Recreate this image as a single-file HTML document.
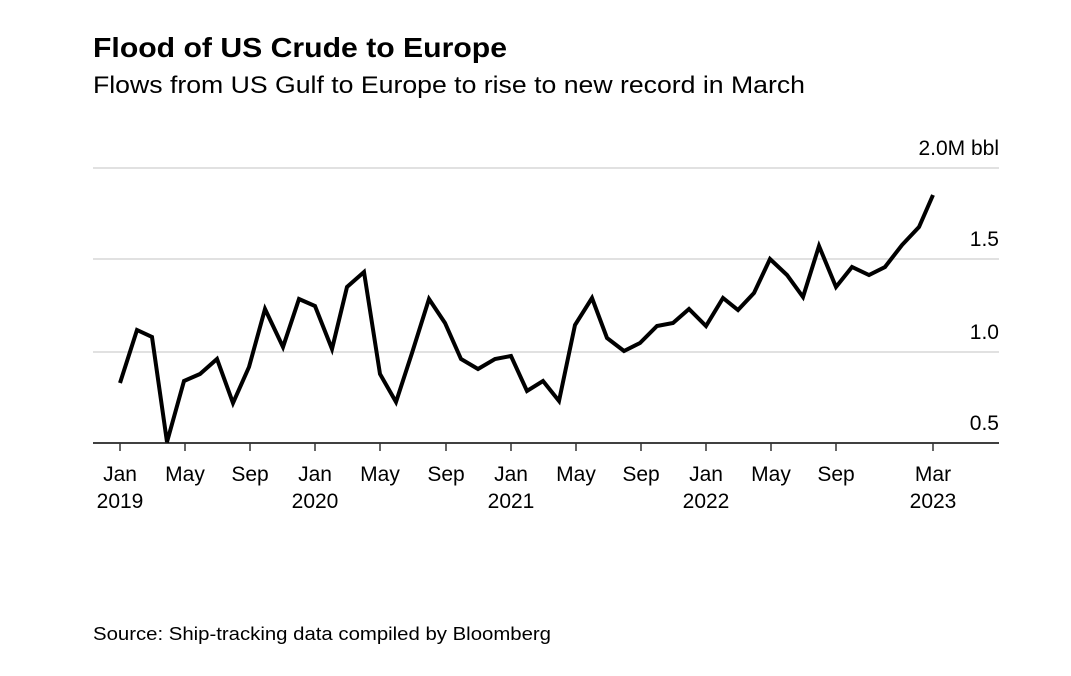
<!DOCTYPE html>
<html><head><style>
body{margin:0;background:#fff;width:1071px;height:671px;overflow:hidden;font-family:"Liberation Sans",sans-serif;}
</style></head><body>
<svg width="1071" height="671" xmlns="http://www.w3.org/2000/svg" font-family="Liberation Sans, sans-serif">
<text x="93" y="57" font-size="28" font-weight="bold" fill="#000" textLength="414" lengthAdjust="spacingAndGlyphs">Flood of US Crude to Europe</text>
<text x="93" y="93" font-size="24" fill="#000" textLength="712" lengthAdjust="spacingAndGlyphs">Flows from US Gulf to Europe to rise to new record in March</text>
<g stroke="#e1e1e1" stroke-width="2">
<line x1="93" y1="168" x2="999" y2="168"/>
<line x1="93" y1="259" x2="999" y2="259"/>
<line x1="93" y1="352" x2="999" y2="352"/>
</g>
<g font-size="21" fill="#000" text-anchor="end">
<text x="999" y="155">2.0M bbl</text>
<text x="999" y="246">1.5</text>
<text x="999" y="339">1.0</text>
<text x="999" y="430">0.5</text>
</g>
<line x1="93" y1="443" x2="999" y2="443" stroke="#000" stroke-width="1.5"/>
<g stroke="#333" stroke-width="1.5">
<line x1="120" y1="443" x2="120" y2="451"/><line x1="185" y1="443" x2="185" y2="451"/>
<line x1="250" y1="443" x2="250" y2="451"/><line x1="315" y1="443" x2="315" y2="451"/>
<line x1="380" y1="443" x2="380" y2="451"/><line x1="446" y1="443" x2="446" y2="451"/>
<line x1="511" y1="443" x2="511" y2="451"/><line x1="576" y1="443" x2="576" y2="451"/>
<line x1="641" y1="443" x2="641" y2="451"/><line x1="706" y1="443" x2="706" y2="451"/>
<line x1="771" y1="443" x2="771" y2="451"/><line x1="836" y1="443" x2="836" y2="451"/>
<line x1="933" y1="443" x2="933" y2="451"/>
</g>
<g font-size="21" fill="#000" text-anchor="middle">
<text x="120" y="481">Jan</text><text x="120" y="508">2019</text>
<text x="185" y="481">May</text><text x="250" y="481">Sep</text>
<text x="315" y="481">Jan</text><text x="315" y="508">2020</text>
<text x="380" y="481">May</text><text x="446" y="481">Sep</text>
<text x="511" y="481">Jan</text><text x="511" y="508">2021</text>
<text x="576" y="481">May</text><text x="641" y="481">Sep</text>
<text x="706" y="481">Jan</text><text x="706" y="508">2022</text>
<text x="771" y="481">May</text><text x="836" y="481">Sep</text>
<text x="933" y="481">Mar</text><text x="933" y="508">2023</text>
</g>
<polyline fill="none" stroke="#000" stroke-width="4" stroke-linejoin="miter" points="120,383 137,330 152,337 167,442 184,381 200,374 217,359 233,403 249,367 265,309 283,347 299,299 315,306 332,349 347,287 364,272 380,374 396,402 412,353 429,299 445,323 461,359 478,369 495,359 511,356 527,391 543,381 559,401 575,325 592,298 607,338 624,351 640,343 657,326 673,323 689,309 706,326 723,298 738,310 754,293 770,259 787,275 803,297 819,246 836,287 852,267 869,275 885,267 902,245 919,227 933,195"/>
<text x="93" y="640" font-size="18" fill="#000" textLength="458" lengthAdjust="spacingAndGlyphs">Source: Ship-tracking data compiled by Bloomberg</text>
</svg>
</body></html>
